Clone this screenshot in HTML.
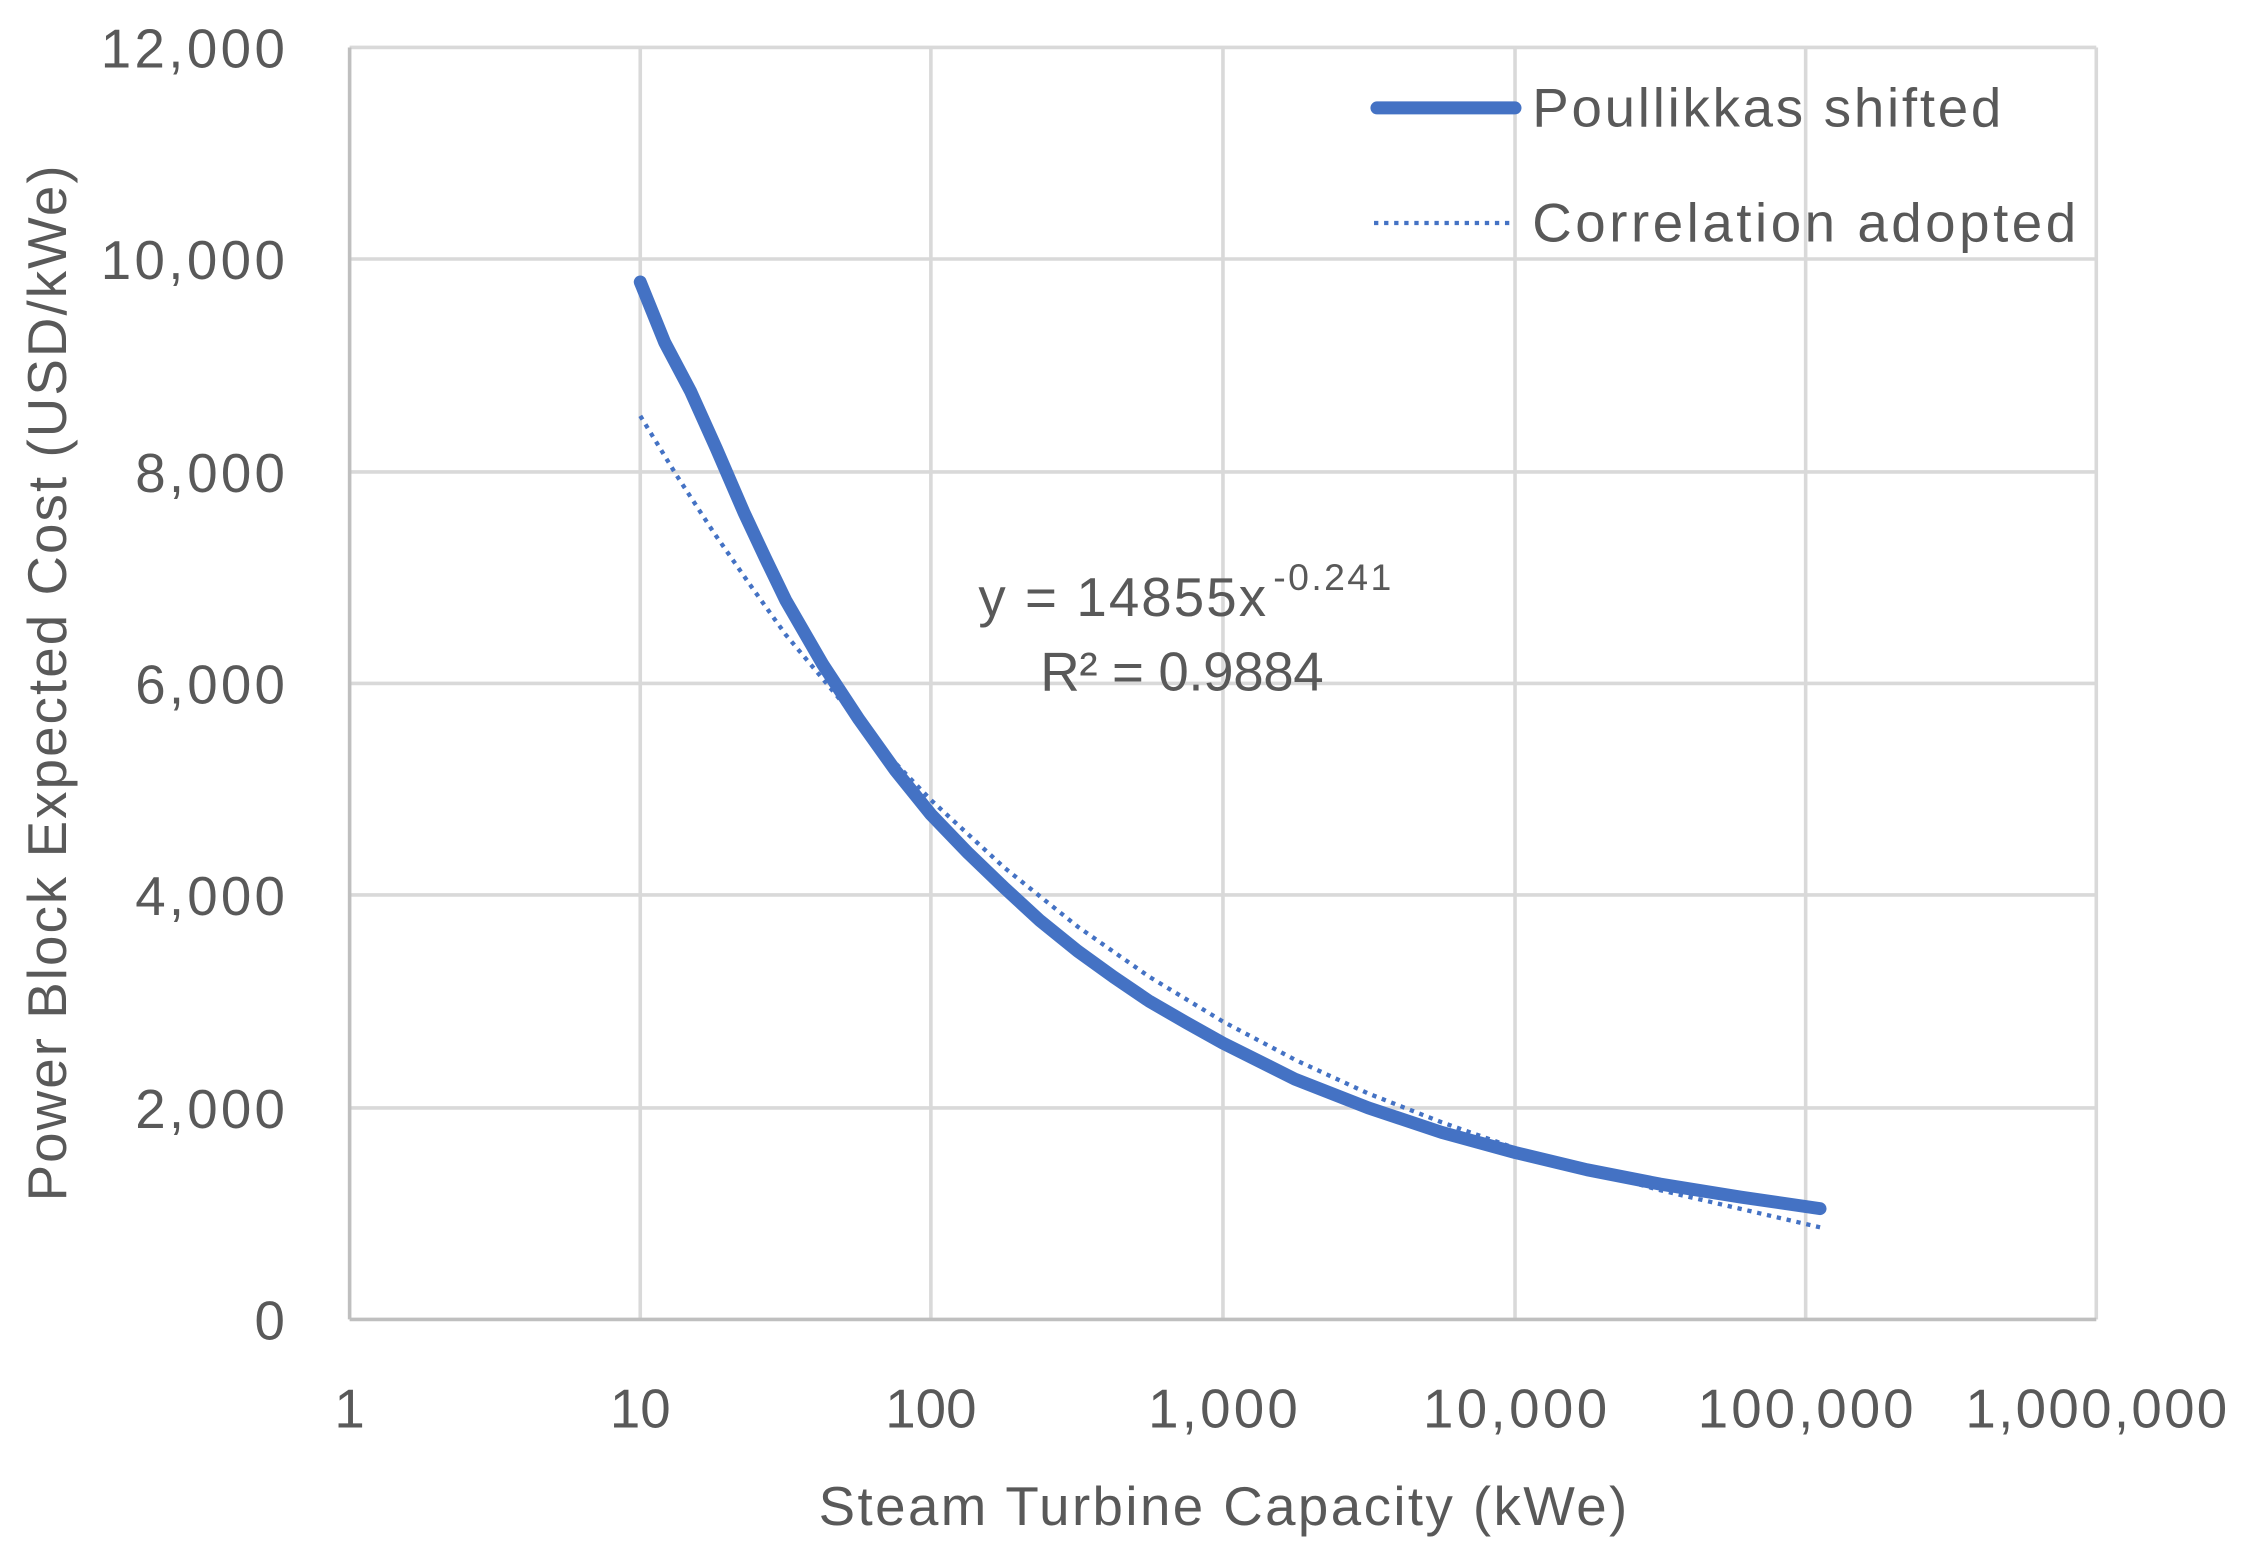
<!DOCTYPE html>
<html><head><meta charset="utf-8"><style>html,body{margin:0;padding:0;background:#fff}svg{display:block}</style></head>
<body>
<svg width="2256" height="1564" viewBox="0 0 1568 1087" preserveAspectRatio="none" xmlns="http://www.w3.org/2000/svg" font-family="Liberation Sans, sans-serif" fill="#595959">
<g stroke="#d9d9d9" stroke-width="2.5">
<line x1="243" y1="33" x2="1457" y2="33"/><line x1="243" y1="180" x2="1457" y2="180"/><line x1="243" y1="328" x2="1457" y2="328"/><line x1="243" y1="475" x2="1457" y2="475"/><line x1="243" y1="622" x2="1457" y2="622"/><line x1="243" y1="770" x2="1457" y2="770"/>
<line x1="445" y1="33" x2="445" y2="917"/><line x1="647" y1="33" x2="647" y2="917"/><line x1="850" y1="33" x2="850" y2="917"/><line x1="1053" y1="33" x2="1053" y2="917"/><line x1="1255" y1="33" x2="1255" y2="917"/><line x1="1457" y1="33" x2="1457" y2="917"/>
</g>
<g stroke="#bfbfbf" stroke-width="2.5"><line x1="243" y1="33" x2="243" y2="917"/><line x1="243" y1="917" x2="1457" y2="917"/></g>
<g font-size="38" text-anchor="end">
<text x="198" y="47" textLength="128">12,000</text><text x="198" y="194" textLength="128">10,000</text><text x="198" y="342" textLength="104">8,000</text><text x="198" y="489" textLength="104">6,000</text><text x="198" y="636" textLength="104">4,000</text><text x="198" y="784" textLength="104">2,000</text><text x="198" y="931">0</text>
</g>
<g font-size="38" text-anchor="middle">
<text x="243" y="992">1</text><text x="445" y="992">10</text><text x="647" y="992">100</text><text x="850" y="992" textLength="104">1,000</text><text x="1053" y="992" textLength="128">10,000</text><text x="1255" y="992" textLength="150">100,000</text><text x="1457" y="992" textLength="182">1,000,000</text>
<text x="850" y="1060" textLength="562">Steam Turbine Capacity (kWe)</text>
<text transform="translate(46,475) rotate(-90)" textLength="720">Power Block Expected Cost (USD/kWe)</text>
</g>
<polyline fill="none" stroke="#4472C4" stroke-width="3" stroke-dasharray="3,4" points="445,289 470,330 496,370 521,406 546,441 572,472 597,502 622,530 647,556 698,603 749,644 799,679 850,710 901,737 951,760 1002,780 1053,798 1103,813 1153,827 1209,840 1265,853"/>
<polyline fill="none" stroke="#4472C4" stroke-width="9" stroke-linecap="round" stroke-linejoin="round" points="445,196 462,238 480,272 498,312 517,356 532,388 546,417 572,462 597,500 622,535 647,566 673,593 698,617 723,640 749,661 774,679 799,696 825,711 850,725 900,750 951,770 1002,787 1053,801 1103,813 1154,823 1210,832 1265,840"/>
<text x="680" y="428" font-size="38" textLength="200">y = 14855x</text><text x="885" y="410" font-size="26" textLength="82">-0.241</text>
<text x="723" y="480" font-size="38" textLength="197">R² = 0.9884</text>
<line x1="957" y1="75" x2="1053" y2="75" stroke="#4472C4" stroke-width="9" stroke-linecap="round"/>
<line x1="955" y1="155" x2="1050" y2="155" stroke="#4472C4" stroke-width="3" stroke-dasharray="3,4"/>
<text x="1065" y="88" font-size="38" textLength="326">Poullikkas shifted</text>
<text x="1065" y="168" font-size="38" textLength="378">Correlation adopted</text>
</svg>
</body></html>
